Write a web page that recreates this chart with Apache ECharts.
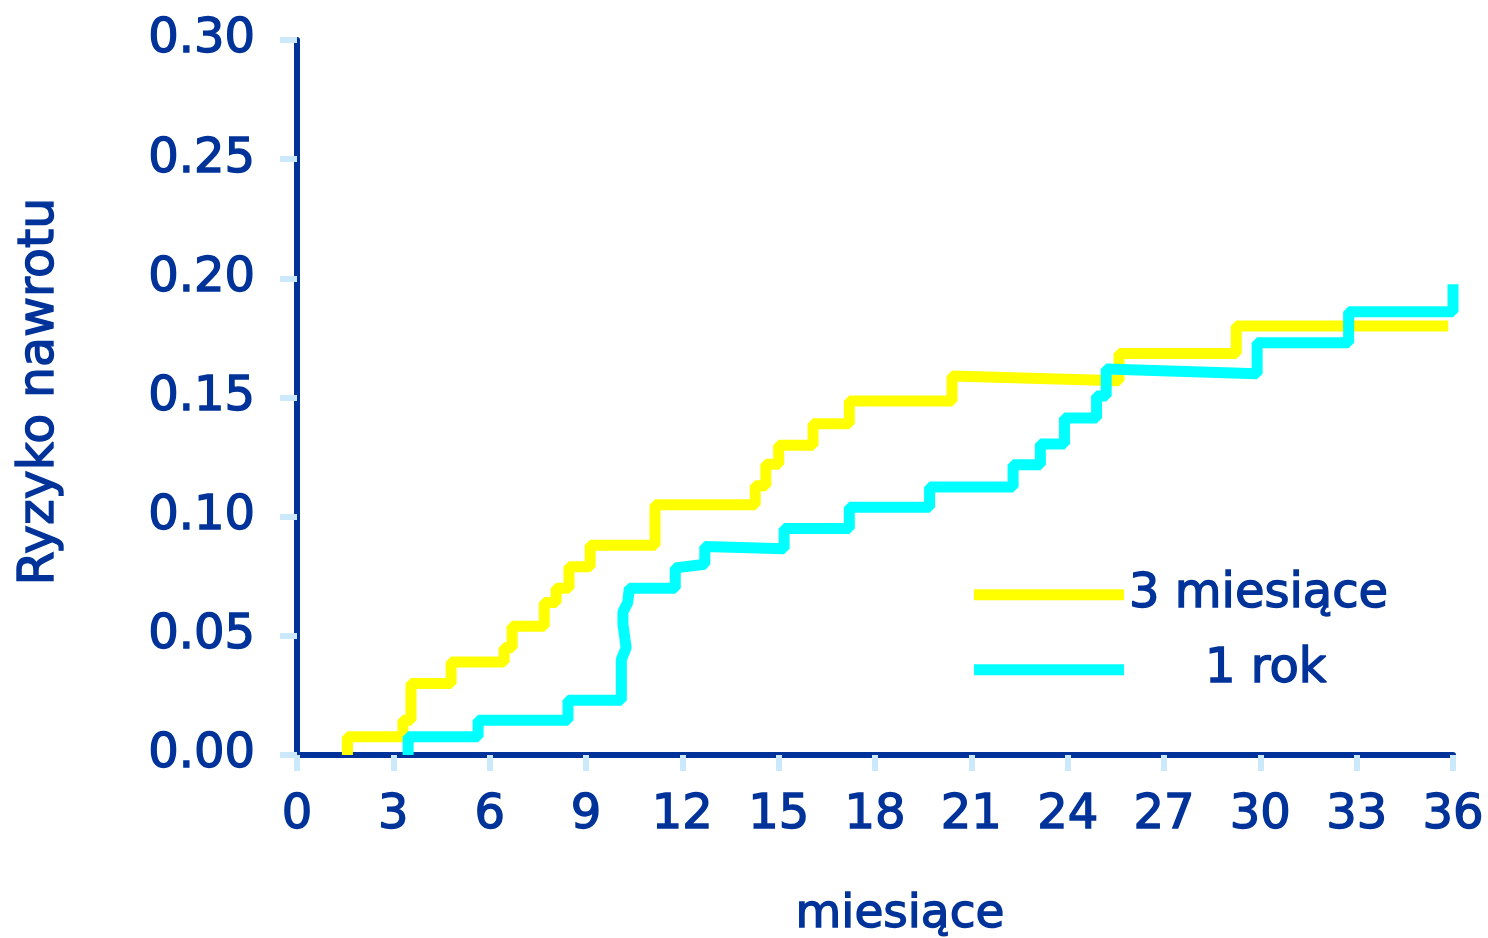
<!DOCTYPE html>
<html>
<head>
<meta charset="utf-8">
<script src="https://cdn.jsdelivr.net/npm/echarts@6/dist/echarts.min.js"></script>
<style>
html,body{margin:0;padding:0;background:#ffffff;}
#chart{width:1488px;height:938px;}
</style>
</head>
<body>
<div id="chart"></div>
<script>
// Data
var seriesNames = ['3 miesiące', '1 rok'];
var xTicks = [0, 3, 6, 9, 12, 15, 18, 21, 24, 27, 30, 33, 36];
var yTicks = [0.00, 0.05, 0.10, 0.15, 0.20, 0.25, 0.30];

// "3 miesiące" curve vertices (month, risk)
var monthsA = [1.57, 1.57, 3.3, 3.3, 3.55, 3.55, 4.8, 4.8, 6.45, 6.45, 6.7, 6.7, 7.7, 7.7, 8.07, 8.07, 8.47, 8.47, 9.13, 9.13, 11.15, 11.15, 14.27, 14.27, 14.6, 14.6, 15.0, 15.0, 16.07, 16.07, 17.2, 17.2, 20.4, 20.4, 25.6, 25.6, 29.25, 29.25, 35.85];
var riskA   = [0, 0.0077, 0.0077, 0.0146, 0.0146, 0.030, 0.030, 0.039, 0.039, 0.045, 0.045, 0.054, 0.054, 0.064, 0.064, 0.070, 0.070, 0.079, 0.079, 0.088, 0.088, 0.105, 0.105, 0.113, 0.113, 0.122, 0.122, 0.130, 0.130, 0.139, 0.139, 0.1485, 0.1485, 0.159, 0.157, 0.1685, 0.1685, 0.180, 0.180];

// "1 rok" curve vertices (month, risk)
var monthsB = [3.46, 3.46, 5.64, 5.64, 8.44, 8.44, 10.1, 10.1, 10.25, 10.15, 10.15, 10.3, 10.35, 11.78, 11.78, 12.7, 12.7, 15.17, 15.17, 17.2, 17.2, 19.7, 19.7, 22.3, 22.3, 23.15, 23.15, 23.9, 23.9, 24.9, 24.9, 25.2, 25.2, 29.9, 29.9, 32.75, 32.75, 36.0, 36.0];
var riskB   = [0, 0.0077, 0.0077, 0.0146, 0.0146, 0.023, 0.023, 0.040, 0.045, 0.055, 0.060, 0.064, 0.070, 0.070, 0.0785, 0.080, 0.0875, 0.0865, 0.095, 0.095, 0.104, 0.104, 0.1125, 0.1125, 0.1218, 0.1218, 0.1305, 0.1305, 0.1414, 0.1414, 0.1506, 0.1506, 0.162, 0.160, 0.173, 0.173, 0.186, 0.186, 0.1975];

function zip(xs, ys) { return xs.map(function (x, i) { return [x, ys[i]]; }); }

var NAVY = '#003399';
var TICK = '#cce9fb';
var FONT = 'DejaVu Sans';
var txt = function (size, extra) {
  var o = {fontFamily: FONT, fontSize: size, color: NAVY, textBorderColor: NAVY, textBorderWidth: 1.4};
  for (var k in extra) { o[k] = extra[k]; }
  return o;
};

var chart = echarts.init(document.getElementById('chart'), null, {renderer: 'canvas'});
chart.setOption({
  animation: false,
  backgroundColor: '#ffffff',
  grid: {left: 297, right: 35, top: 40, bottom: 183, containLabel: false, outerBoundsMode: 'none'},
  legend: [
    {
      data: [seriesNames[0]], left: 974, top: 570, icon: 'rect', padding: 0,
      itemWidth: 150, itemHeight: 11, selectedMode: false,
      textStyle: txt(48, {})
    },
    {
      data: [seriesNames[1]], left: 974, top: 645, icon: 'rect', padding: 0,
      itemWidth: 150, itemHeight: 11, selectedMode: false,
      textStyle: txt(48, {padding: [0, 0, 0, 76]})
    }
  ],
  xAxis: {
    type: 'value', min: xTicks[0], max: xTicks[xTicks.length - 1], interval: 3,
    name: 'miesiące', nameLocation: 'middle', nameGap: 136,
    nameTextStyle: txt(47, {padding: [0, 0, 0, 50]}),
    axisLine: {show: true, onZero: false, lineStyle: {color: NAVY, width: 6}},
    axisTick: {show: true, length: 16, lineStyle: {color: TICK, width: 6}},
    axisLabel: Object.assign(txt(48, {}), {margin: 37,
      formatter: function (v) { return String(v); }}),
    splitLine: {show: false}
  },
  yAxis: {
    type: 'value', min: yTicks[0], max: yTicks[yTicks.length - 1], interval: 0.05,
    name: 'Ryzyko nawrotu', nameLocation: 'middle', nameGap: 232,
    nameTextStyle: txt(49, {padding: [0, 0, 0, 12]}),
    axisLine: {show: true, lineStyle: {color: NAVY, width: 6}},
    axisTick: {show: true, length: 17, lineStyle: {color: TICK, width: 6}},
    axisLabel: Object.assign(txt(48, {}), {margin: 42,
      formatter: function (v) { return v.toFixed(2); }}),
    splitLine: {show: false}
  },
  series: [
    {
      name: seriesNames[0], type: 'line', data: zip(monthsA, riskA),
      showSymbol: false, symbol: 'none', clip: false,
      color: '#ffff00',
      lineStyle: {color: '#ffff00', width: 11, join: 'bevel', cap: 'butt'},
      z: 2
    },
    {
      name: seriesNames[1], type: 'line', data: zip(monthsB, riskB),
      showSymbol: false, symbol: 'none', clip: false,
      color: '#00ffff',
      lineStyle: {color: '#00ffff', width: 11, join: 'bevel', cap: 'butt'},
      z: 3
    }
  ]
});
</script>
</body>
</html>
